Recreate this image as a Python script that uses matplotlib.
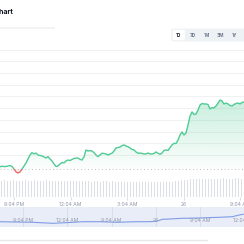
import numpy as np
import matplotlib
matplotlib.use("Agg")
import matplotlib.pyplot as plt
from matplotlib.patches import Rectangle, FancyBboxPatch
from matplotlib.path import Path

plt.rcParams['font.family'] = ['Inter', 'DejaVu Sans']

# price series, one point every ~6.4 minutes, minutes since 9:04 PM
t_start = -44.6
t_step = 6.372
price = [
    90.0, 90.4, 90.1, 90.2, 90.6, 91.0, 90.2, 88.0, 85.6, 84.6, 85.5, 88.0,
    90.6, 93.2, 96.6, 100.0, 102.0, 100.9, 101.7, 100.0, 99.6, 99.2, 98.3, 97.4,
    98.7, 96.6, 94.9, 92.3, 90.2, 90.6, 92.3, 93.6, 93.2, 94.9, 95.7, 95.3,
    96.2, 97.0, 97.4, 97.4, 96.3, 95.7, 98.3, 104.3, 103.4, 103.7, 103.4, 102.0,
    100.0, 98.6, 100.0, 101.5, 101.3, 100.9, 100.0, 100.9, 101.5, 103.4, 106.0, 106.4,
    106.8, 108.1, 108.6, 107.7, 107.1, 106.0, 104.7, 104.3, 102.6, 101.5, 101.7, 101.3,
    100.9, 100.9, 101.7, 100.9, 100.9, 101.3, 102.6, 101.5, 100.6, 101.7, 103.9, 104.3,
    103.9, 106.4, 108.6, 110.0, 109.8, 112.8, 117.1, 119.7, 117.1, 118.8, 125.6, 133.3,
    136.8, 134.6, 135.0, 138.5, 142.7, 144.0, 143.6, 143.6, 143.2, 139.3, 140.6, 140.2,
    141.9, 144.4, 147.0, 146.2, 143.6, 144.4, 143.6, 142.3, 141.9, 143.2, 144.0, 144.4,
    143.6, 144.9, 145.3,
]
open_price = 87.8
price_grid = [100, 110, 120, 130, 140, 150, 160, 170, 180]

# volume bars, one every ~9.6 minutes
vol_start = -39.8
vol_step = 9.558
volume = [
    16.0, 16.3, 15.8, 16.1, 16.4, 16.0, 15.7, 16.2, 16.5, 16.1, 15.9, 16.3, 16.0, 15.6,
    16.2, 16.4, 16.0, 15.8, 16.1, 15.9,
    15.7, 15.5, 15.9, 15.6, 15.4, 15.8, 15.6, 15.3, 15.7, 15.5, 15.2, 15.6, 15.4, 15.0,
    15.3, 15.5, 15.1, 15.4, 15.2, 15.0,
    14.8, 14.6, 14.9, 14.7, 14.5, 14.8, 14.6, 14.9, 14.7, 14.5, 14.8, 15.0, 14.7, 14.9,
    15.1, 14.8, 15.0, 15.2, 15.4, 15.6,
    16.4, 16.9, 17.2, 17.6, 17.8, 17.7, 17.9, 18.0, 17.8, 18.1, 18.0, 18.2, 17.9, 18.1,
    18.3, 18.0, 18.2, 18.1, 18.3, 18.4, 18.2,
]

tick_minutes = [0, 180, 360, 540, 720]
tick_labels = ['9:04 PM', '12:04 AM', '3:04 AM', '26', '9:04 AM']

# navigator (overview) series
nav_x = [-0.526, -0.187, 0.219, 0.670, 1.054, 1.348, 1.731, 2.115, 2.409, 2.634,
         2.860, 3.018, 3.153, 3.312, 3.605, 3.989, 4.147, 4.440, 4.734, 4.892, 4.982]
nav_y = [5.3, 5.0, 4.7, 3.7, 4.5, 5.3, 5.3, 4.7, 5.1, 5.3,
         5.3, 5.8, 7.7, 8.0, 8.7, 9.0, 9.3, 9.7, 10.3, 12.0, 12.7]
nav_labels = ['9:04 PM', '12:04 AM', '9:04 AM', '26', '9:04 AM', '12:04 AM']

ranges = ['1D', '7D', '1M', '3M', '1Y']

W = H = 244.0
GREEN = '#4fcb94'
RED = '#ef6b6b'
LABEL = '#8a94a6'


def fbox(left, top, right, bottom):
    return [left / W, 1 - bottom / H, (right - left) / W, (bottom - top) / H]


fig = plt.figure(figsize=(2.44, 2.44), dpi=100)
fig.patch.set_facecolor('white')

# header
fig.text(13.5 / W, 1 - 12.5 / H, 'Chart', ha='right', va='center',
         fontsize=5, fontweight='bold', color='#0d1421')
hdr = fig.add_axes([0, 0, 1, 1], zorder=0)
hdr.set_xlim(0, W)
hdr.set_ylim(H, 0)
hdr.axis('off')
hdr.plot([0, 55], [28, 28], color='#eff1f4', lw=1.2, solid_capstyle='butt')
hdr.plot([0, W], [50, 50], color='#eff1f4', lw=0.8)
hdr.add_patch(FancyBboxPatch((171, 28.5), 80, 13, boxstyle='round,pad=0,rounding_size=2.5',
                             facecolor='#eff2f5', edgecolor='none'))
hdr.add_patch(FancyBboxPatch((172.5, 29.8), 12.5, 10.4, boxstyle='round,pad=0,rounding_size=2',
                             facecolor='white', edgecolor='none'))
for i, r in enumerate(ranges):
    hdr.text(178.8 + i * 14.0, 35.2, r, ha='center', va='center', fontsize=3.4,
             fontweight='bold', color='#0d1421' if i == 0 else '#6b778c')
hdr.plot([0, 207], [240, 240], color='#e6e8ec', lw=1.0)

# price panel
t = t_start + np.arange(len(price)) * t_step
p = np.array(price)
xmin, xmax = -44.6, 732.7
ax = fig.add_axes(fbox(0, 50, W, 178), zorder=2)
ax.set_facecolor('none')
ax.set_xlim(xmin, xmax)
ax.set_ylim(80.34, 189.74)
for s in ax.spines.values():
    s.set_visible(False)
ax.set_xticks([])
ax.set_yticks(price_grid)
ax.tick_params(left=False, labelleft=False)
ax.grid(axis='y', color='#f0f1f3', lw=0.8)
ax.set_axisbelow(True)

up = ax.fill_between(t, p, open_price, where=p >= open_price, interpolate=True,
                     facecolor='none', edgecolor='none')
grad = np.linspace(0.02, 0.32, 256).reshape(-1, 1)
rgba = np.zeros((256, 1, 4))
rgba[..., :3] = matplotlib.colors.to_rgb(GREEN)
rgba[..., 3] = grad
im = ax.imshow(rgba, extent=[xmin, xmax, open_price, 150], origin='lower',
               aspect='auto', zorder=1)
im.set_clip_path(Path.make_compound_path(*up.get_paths()), transform=ax.transData)
ax.fill_between(t, p, open_price, where=p < open_price, interpolate=True,
                facecolor=RED, alpha=0.12, edgecolor='none', zorder=1)

ax.axhline(open_price, color='#b9c0ca', lw=0.7, ls=(0, (1, 2.6)), zorder=2)
g_line, = ax.plot(t, p, color=GREEN, lw=1.0, zorder=3)
g_line.set_clip_path(Rectangle((xmin, open_price), xmax - xmin, 200,
                               transform=ax.transData))
r_line, = ax.plot(t, p, color=RED, lw=1.0, zorder=3)
r_line.set_clip_path(Rectangle((xmin, 0), xmax - xmin, open_price,
                               transform=ax.transData))

# volume panel
vt = vol_start + np.arange(len(volume)) * vol_step
axv = fig.add_axes(fbox(0, 176, W, 196.7), zorder=1)
axv.set_facecolor('none')
axv.bar(vt, volume, width=vol_step * 0.5, color='#dcdfe4', linewidth=0)
axv.set_xlim(xmin, xmax)
axv.set_ylim(0, 20.7)
for s in axv.spines.values():
    s.set_visible(False)
axv.set_yticks([])
axv.set_xticks(tick_minutes)
axv.set_xticklabels(tick_labels)
axv.tick_params(axis='x', length=2, width=0.5, color='#c9ced6', pad=1.5,
                labelsize=3.6, labelcolor=LABEL)

# navigator
axn = fig.add_axes(fbox(0, 207, W, 227), zorder=1)
axn.set_facecolor('#e9edf8')
axn.set_xlim(-0.526, 4.982)
axn.set_ylim(0, 20)
for s in axn.spines.values():
    s.set_visible(False)
axn.set_xticks(range(len(nav_labels)))
axn.set_xticklabels([])
axn.set_yticks([])
axn.tick_params(length=0)
axn.grid(axis='x', color='#d6dcea', lw=0.6)
axn.plot(nav_x, nav_y, color='#7f9ce6', lw=0.8)
for i, lab in enumerate(nav_labels):
    axn.text(i, 6.2, lab, ha='center', va='center', fontsize=3.6, color='#8d96a6')

fig.savefig('out.png', dpi=100, facecolor='white')
